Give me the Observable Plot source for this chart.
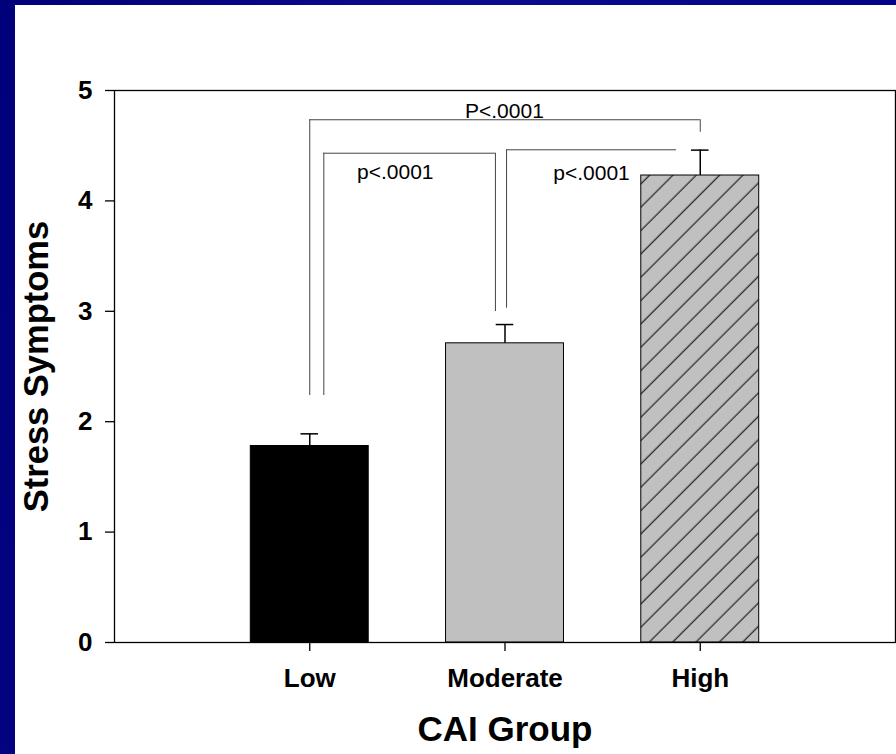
<!DOCTYPE html>
<html><head><meta charset="utf-8">
<script src="https://cdn.jsdelivr.net/npm/d3@7"></script>
<script src="https://cdn.jsdelivr.net/npm/@observablehq/plot@0.6"></script>
<style>
html,body{margin:0;padding:0;}
body{width:896px;height:754px;overflow:hidden;position:relative;
  background:linear-gradient(100deg,#00007a 0%,#0c0c8e 45%,#000084 100%);}
#panel{position:absolute;left:15px;top:5px;width:881px;height:749px;background:#fff;}
#panel svg{display:block;}
</style></head><body><div id="panel"></div>
<script>
// ---- data ----
const groups = ["Low", "Moderate", "High"];
const groupPos = [1, 2, 3];
const means = [1.78, 2.71, 4.23];
const upperSE = [1.89, 2.88, 4.46];
const yTicks = [0, 1, 2, 3, 4, 5];

const bracketLabels = ["P<.0001", "p<.0001", "p<.0001"];
const bracketX1 = [1.0, 1.072, 2.008];
const bracketX2 = [3.0, 1.951, 2.878];
const bracketY = [4.735, 4.432, 4.463];
const bracketLeftEnd = [2.237, 2.237, 3.028];
const bracketRightEnd = [4.622, 2.998, null];
const labelX = [1.997, 1.438, 2.443];
const labelY = [4.75, 4.2, 4.19];

const xTitle = "CAI Group";
const yTitle = "Stress Symptoms";

// ---- tables ----
const bars = groups.map((g, i) => ({group: g, x: groupPos[i], mean: means[i], upper: upperSE[i]}));
const brackets = bracketLabels.map((l, i) => ({
  label: l, x1: bracketX1[i], x2: bracketX2[i], y: bracketY[i],
  leftEnd: bracketLeftEnd[i], rightEnd: bracketRightEnd[i], lx: labelX[i], ly: labelY[i]
}));
const fillFor = {Low: "#000000", Moderate: "#c0c0c0", High: "url(#hatch)"};

const chart = Plot.plot({
  width: 881,
  height: 749,
  marginLeft: 99,
  marginTop: 85,
  marginRight: 1,
  marginBottom: 112,
  style: {fontFamily: "'Liberation Sans', Arial, sans-serif", background: "transparent", color: "black"},
  x: {domain: [0, 4]},
  y: {domain: [0, 5]},
  color: {type: "identity"},
  marks: [
    Plot.rectY(bars, {x1: d => d.x - 0.302, x2: d => d.x + 0.302, y1: 0, y2: "mean",
      fill: d => fillFor[d.group], stroke: "black", strokeWidth: 1}),
    Plot.ruleX(bars, {x: "x", y1: "mean", y2: "upper", stroke: "black", strokeWidth: 1.5}),
    Plot.ruleY(bars, {y: "upper", x1: d => d.x - 0.045, x2: d => d.x + 0.045, stroke: "black", strokeWidth: 1.5}),
    Plot.ruleY(brackets, {y: "y", x1: "x1", x2: "x2", stroke: "#444", strokeWidth: 1}),
    Plot.ruleX(brackets, {x: "x1", y1: "leftEnd", y2: "y", stroke: "#444", strokeWidth: 1}),
    Plot.ruleX(brackets.filter(d => d.rightEnd != null), {x: "x2", y1: "rightEnd", y2: "y", stroke: "#444", strokeWidth: 1}),
    Plot.text(brackets, {x: "lx", y: "ly", text: "label", lineAnchor: "bottom", fontSize: 21, fill: "black"}),
    Plot.frame({stroke: "black", strokeWidth: 1.3}),
    Plot.axisY(yTicks, {tickSize: 9, tickPadding: 13, fontSize: 26, fontWeight: "bold", label: null,
      tickFormat: d => String(d), strokeWidth: 1.3}),
    Plot.axisX(groupPos, {tickSize: 9, tickPadding: 17, fontSize: 26, fontWeight: "bold", label: null,
      tickFormat: d => groups[d - 1], strokeWidth: 1.3}),
    Plot.text([yTitle], {text: d => d, frameAnchor: "left", textAnchor: "middle", rotate: -90, dx: -67,
      lineAnchor: "bottom", fontSize: 34.5, fontWeight: "bold", fill: "black"}),
    Plot.text([xTitle], {text: d => d, frameAnchor: "bottom", textAnchor: "middle", dy: 98, lineAnchor: "bottom",
      fontSize: 35, fontWeight: "bold", fill: "black"})
  ]
});

// hatch pattern for the High bar
const ns = "http://www.w3.org/2000/svg";
const defs = document.createElementNS(ns, "defs");
const pat = document.createElementNS(ns, "pattern");
pat.setAttribute("id", "hatch");
pat.setAttribute("patternUnits", "userSpaceOnUse");
pat.setAttribute("width", "16.5");
pat.setAttribute("height", "16.5");
pat.setAttribute("patternTransform", "rotate(45)");
const bg = document.createElementNS(ns, "rect");
bg.setAttribute("width", "16.5"); bg.setAttribute("height", "16.5"); bg.setAttribute("fill", "#c0c0c0");
const ln = document.createElementNS(ns, "line");
ln.setAttribute("x1", "8"); ln.setAttribute("x2", "8"); ln.setAttribute("y1", "-1"); ln.setAttribute("y2", "17.5");
ln.setAttribute("stroke", "black"); ln.setAttribute("stroke-width", "1");
pat.appendChild(bg); pat.appendChild(ln); defs.appendChild(pat);
chart.insertBefore(defs, chart.firstChild);

document.getElementById("panel").appendChild(chart);
</script>
</body></html>
